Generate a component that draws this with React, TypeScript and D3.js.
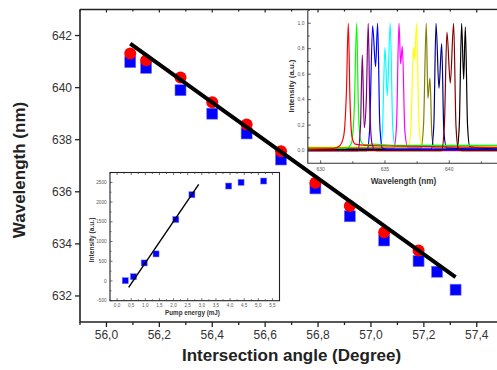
import { useEffect, useRef } from "react";
import * as d3 from "d3";

// main chart: wavelength vs intersection angle
const angles = [56.09, 56.15, 56.28, 56.40, 56.53, 56.66, 56.79, 56.92, 57.05, 57.18, 57.25, 57.32];
const redWavelengths = [641.31, 641.05, 640.39, 639.44, 638.58, 637.56, 636.35, 635.45, 634.45, 633.75];
const blueWavelengths = [640.98, 640.76, 639.90, 639.00, 638.24, 637.24, 636.13, 635.06, 634.13, 633.34, 632.93, 632.24];
const fitAngles = [56.09, 57.32];
const fitWavelengths = [641.69, 632.72];
const mainYTicks = [632, 634, 636, 638, 640, 642];

// lower inset: intensity vs pump energy
const pumpEnergy = [0.29, 0.58, 0.96, 1.38, 2.08, 2.65, 3.95, 4.39, 5.19];
const pumpIntensity = [8, 108, 457, 686, 1558, 2186, 2407, 2500, 2534];
const pumpFitEnergy = [0.41, 2.89];
const pumpFitIntensity = [-160, 2451];
const pumpXTicks = [0, 0.5, 1, 1.5, 2, 2.5, 3, 3.5, 4, 4.5, 5, 5.5];
const pumpYTicks = [-500, 0, 500, 1000, 1500, 2000, 2500];

// upper inset: spectra, [wavelength, intensity]
const redSpectrum = [[629, 0.012], [631.0, 0.015], [631.5, 0.04], [631.8, 0.12], [632.0, 0.45], [632.15, 1.0], [632.28, 0.4], [632.45, 0.1], [632.7, 0.05], [633.5, 0.04], [636, 0.035], [640, 0.03], [644, 0.025]];
const greenSpectrum = [[629, 0.015], [632.0, 0.02], [632.4, 0.06], [632.62, 0.35], [632.8, 1.0], [632.93, 0.35], [633.1, 0.08], [633.4, 0.045], [634.0, 0.05], [636, 0.04], [640, 0.04], [644, 0.04]];
const purpleSpectrum = [[629, 0.0], [632.9, 0.0], [633.1, 0.2], [633.24, 0.75], [633.39, 0.18], [633.55, 0.4], [633.7, 1.0], [633.82, 0.35], [634.0, 0.05], [634.3, 0.0], [644, 0.0]];
const blueSpectrum = [[629, 0.0], [633.6, 0.0], [633.8, 0.15], [634.04, 0.98], [634.27, 0.66], [634.43, 1.0], [634.6, 0.2], [634.8, 0.02], [635.2, 0.01], [644, 0.01]];
const cyanSpectrum = [[629, 0.02], [634.6, 0.02], [634.8, 0.15], [635.0, 0.81], [635.18, 0.43], [635.41, 1.0], [635.6, 0.2], [635.8, 0.03], [644, 0.02]];
const magentaSpectrum = [[629, 0.02], [635.7, 0.02], [635.9, 0.2], [636.09, 1.0], [636.22, 0.68], [636.35, 0.82], [636.55, 0.15], [636.8, 0.02], [644, 0.02]];
const yellowSpectrum = [[629, 0.03], [636.8, 0.03], [637.0, 0.15], [637.23, 0.81], [637.31, 0.71], [637.46, 1.0], [637.65, 0.2], [637.9, 0.03], [644, 0.03]];
const oliveSpectrum = [[629, 0.02], [637.8, 0.02], [638.0, 0.2], [638.21, 1.0], [638.34, 0.41], [638.5, 0.57], [638.65, 0.12], [638.85, 0.02], [644, 0.02]];
const navySpectrum = [[629, 0.01], [638.6, 0.01], [638.8, 0.2], [638.97, 1.0], [639.2, 0.49], [639.41, 0.84], [639.58, 0.15], [639.8, 0.02], [644, 0.01]];
const maroonSpectrum = [[629, 0.0], [639.4, 0.0], [639.62, 0.2], [639.82, 0.93], [640.08, 0.53], [640.34, 1.0], [640.52, 0.2], [640.7, 0.02], [641, 0.0], [644, 0.0]];
const blackSpectrum = [[629, 0.01], [640.6, 0.01], [640.78, 0.2], [640.96, 1.0], [641.12, 0.56], [641.25, 0.97], [641.42, 0.2], [641.6, 0.03], [644, 0.01]];
const specXTicks = [630, 635, 640];
const specYTicks = [0, 0.2, 0.4, 0.6, 0.8, 1.0];

const spectra = [
  { color: "#00ffff", points: cyanSpectrum },
  { color: "#ff00ff", points: magentaSpectrum },
  { color: "#ffff00", points: yellowSpectrum },
  { color: "#808000", points: oliveSpectrum },
  { color: "#000080", points: navySpectrum },
  { color: "#000000", points: blackSpectrum },
  { color: "#0000ff", points: blueSpectrum },
  { color: "#00ff00", points: greenSpectrum },
  { color: "#ff0000", points: redSpectrum },
  { color: "#800080", points: purpleSpectrum },
  { color: "#800000", points: maroonSpectrum },
];

const font = 'Arial, "Liberation Sans", sans-serif';
const comma = (f: string) => (v: number) => d3.format(f)(v).replace(".", ",");

export default function App() {
  const ref = useRef<SVGSVGElement>(null);

  useEffect(() => {
    const svg = d3.select(ref.current);
    svg.selectAll("*").remove();

    // ---------- main chart ----------
    const x = d3.scaleLinear().domain([55.9, 57.5]).range([80, 503.2]);
    const y = d3.scaleLinear().domain([631, 643]).range([322, 9.5]);
    const main = svg.append("g");

    main.append("path")
      .attr("d", `M${x(55.9)},${y(643)}V${y(631)}H${497}`)
      .attr("fill", "none").attr("stroke", "#222").attr("stroke-width", 1.6);

    const xTickVals = d3.range(0, 16).map(i => 55.9 + i * 0.1);
    main.selectAll(".xtick").data(xTickVals).join("line")
      .attr("x1", d => x(d)).attr("x2", d => x(d))
      .attr("y1", y(631)).attr("y2", (d, i) => y(631) + (i % 2 === 1 ? 5 : 3))
      .attr("stroke", "#222").attr("stroke-width", 1.3);
    main.selectAll(".xlab").data(xTickVals.filter((d, i) => i % 2 === 1)).join("text")
      .attr("x", d => x(d)).attr("y", 339)
      .attr("text-anchor", "middle").attr("font-family", font).attr("font-size", 12).attr("fill", "#333")
      .text(d => comma(".1f")(d));

    main.selectAll(".ytick").data(mainYTicks).join("line")
      .attr("x1", x(55.9) - 5).attr("x2", x(55.9))
      .attr("y1", d => y(d)).attr("y2", d => y(d))
      .attr("stroke", "#222").attr("stroke-width", 1.3);
    main.selectAll(".ylab").data(mainYTicks).join("text")
      .attr("x", 72).attr("y", d => y(d)).attr("dy", "0.36em")
      .attr("text-anchor", "end").attr("font-family", font).attr("font-size", 12).attr("fill", "#333")
      .text(d => d);

    main.append("text")
      .attr("x", 291.5).attr("y", 361)
      .attr("text-anchor", "middle").attr("font-family", font).attr("font-size", 17).attr("font-weight", "bold").attr("fill", "#222")
      .text("Intersection angle (Degree)");
    main.append("text")
      .attr("transform", `translate(25,${170}) rotate(-90)`)
      .attr("text-anchor", "middle").attr("font-family", font).attr("font-size", 17).attr("font-weight", "bold").attr("fill", "#222")
      .text("Wavelength (nm)");

    main.selectAll(".sq").data(blueWavelengths).join("rect")
      .attr("x", (d, i) => x(angles[i]) - 5.5).attr("y", d => y(d) - 5.5)
      .attr("width", 11).attr("height", 11)
      .attr("fill", "#0000ff").attr("stroke", "#7070ff").attr("stroke-width", 0.6);
    main.selectAll(".ci").data(redWavelengths).join("circle")
      .attr("cx", (d, i) => x(angles[i])).attr("cy", d => y(d)).attr("r", 6)
      .attr("fill", "#ff0000");

    main.append("path")
      .attr("d", d3.line<number>().x((d, i) => x(fitAngles[i])).y(d => y(d))(fitWavelengths))
      .attr("stroke", "#000").attr("stroke-width", 4).attr("fill", "none");

    // ---------- lower inset ----------
    const px = d3.scaleLinear().domain([-0.25, 5.75]).range([110, 279.5]);
    const py = d3.scaleLinear().domain([-500, 2750]).range([300.7, 172.5]);
    const low = svg.append("g");
    low.append("rect")
      .attr("x", px(-0.25)).attr("y", py(2750))
      .attr("width", px(5.75) - px(-0.25)).attr("height", py(-500) - py(2750))
      .attr("fill", "#fff").attr("stroke", "#222").attr("stroke-width", 1.1);

    const pxMinor = d3.range(0, 24).map(i => -0.25 + i * 0.25);
    low.selectAll(".pxt").data(pxMinor).join("line")
      .attr("x1", d => px(d)).attr("x2", d => px(d))
      .attr("y1", py(-500)).attr("y2", (d, i) => py(-500) - (i % 2 === 1 ? 2.5 : 1.5))
      .attr("stroke", "#333").attr("stroke-width", 0.7);
    low.selectAll(".pxt2").data(pxMinor).join("line")
      .attr("x1", d => px(d)).attr("x2", d => px(d))
      .attr("y1", py(2750)).attr("y2", (d, i) => py(2750) + (i % 2 === 1 ? 2.5 : 1.5))
      .attr("stroke", "#333").attr("stroke-width", 0.7);
    low.selectAll(".pxl").data(pumpXTicks).join("text")
      .attr("x", d => px(d)).attr("y", 307)
      .attr("text-anchor", "middle").attr("font-family", font).attr("font-size", 4.6).attr("fill", "#555")
      .text(d => comma(".1f")(d));

    const pyMinor = d3.range(0, 13).map(i => -500 + i * 250);
    low.selectAll(".pyt").data(pyMinor).join("line")
      .attr("x1", px(-0.25)).attr("x2", (d, i) => px(-0.25) + (i % 2 === 0 ? 2.5 : 1.5))
      .attr("y1", d => py(d)).attr("y2", d => py(d))
      .attr("stroke", "#333").attr("stroke-width", 0.7);
    low.selectAll(".pyl").data(pumpYTicks).join("text")
      .attr("x", 106.5).attr("y", d => py(d)).attr("dy", "0.35em")
      .attr("text-anchor", "end").attr("font-family", font).attr("font-size", 4.6).attr("fill", "#555")
      .text(d => d);

    low.append("text")
      .attr("x", 192.5).attr("y", 314.5)
      .attr("text-anchor", "middle").attr("font-family", font).attr("font-size", 6.3).attr("font-weight", "bold").attr("fill", "#333")
      .text("Pump energy (mJ)");
    low.append("text")
      .attr("transform", `translate(94,240) rotate(-90)`)
      .attr("text-anchor", "middle").attr("font-family", font).attr("font-size", 6.6).attr("font-weight", "bold").attr("fill", "#333")
      .text("Intensity (a.u.)");

    low.selectAll(".psq").data(pumpIntensity).join("rect")
      .attr("x", (d, i) => px(pumpEnergy[i]) - 3).attr("y", d => py(d) - 3)
      .attr("width", 6).attr("height", 6)
      .attr("fill", "#0000ff").attr("stroke", "#7070ff").attr("stroke-width", 0.5);
    low.append("path")
      .attr("d", d3.line<number>().x((d, i) => px(pumpFitEnergy[i])).y(d => py(d))(pumpFitIntensity))
      .attr("stroke", "#000").attr("stroke-width", 1.4).attr("fill", "none");

    // ---------- upper inset ----------
    const sx = d3.scaleLinear().domain([629, 644]).range([307.8, 500.7]);
    const sy = d3.scaleLinear().domain([-0.1, 1.1]).range([163.3, 10.5]);
    const up = svg.append("g");
    up.append("clipPath").attr("id", "spec-clip").append("rect")
      .attr("x", sx(629)).attr("y", sy(1.1)).attr("width", 200).attr("height", sy(-0.1) - sy(1.1));
    up.append("rect")
      .attr("x", sx(629)).attr("y", sy(1.1)).attr("width", 200).attr("height", sy(-0.1) - sy(1.1))
      .attr("fill", "#fff");

    const specLine = d3.line<number[]>().x(d => sx(d[0])).y(d => sy(d[1])).curve(d3.curveMonotoneX);
    up.append("g").attr("clip-path", "url(#spec-clip)")
      .selectAll("path").data(spectra).join("path")
      .attr("d", d => specLine(d.points))
      .attr("fill", "none").attr("stroke", d => d.color).attr("stroke-width", 1.2);

    up.append("path")
      .attr("d", `M${sx(629)},${sy(1.1)}V${sy(-0.1)}H${497}`)
      .attr("fill", "none").attr("stroke", "#333").attr("stroke-width", 1.1);

    const sxMinor = d3.range(0, 6).map(i => 630 + i * 2.5);
    up.selectAll(".sxt").data(sxMinor).join("line")
      .attr("x1", d => sx(d)).attr("x2", d => sx(d))
      .attr("y1", sy(-0.1)).attr("y2", (d, i) => sy(-0.1) - (i % 2 === 0 ? 3 : 2))
      .attr("stroke", "#333").attr("stroke-width", 0.8);
    up.selectAll(".sxl").data(specXTicks).join("text")
      .attr("x", d => sx(d)).attr("y", 170.5)
      .attr("text-anchor", "middle").attr("font-family", font).attr("font-size", 5).attr("fill", "#555")
      .text(d => d);

    const syMinor = d3.range(0, 12).map(i => i * 0.1);
    up.selectAll(".syt").data(syMinor).join("line")
      .attr("x1", sx(629)).attr("x2", (d, i) => sx(629) + (i % 2 === 0 ? 3 : 2))
      .attr("y1", d => sy(d)).attr("y2", d => sy(d))
      .attr("stroke", "#333").attr("stroke-width", 0.8);
    up.selectAll(".syl").data(specYTicks).join("text")
      .attr("x", 304.5).attr("y", d => sy(d)).attr("dy", "0.35em")
      .attr("text-anchor", "end").attr("font-family", font).attr("font-size", 5).attr("fill", "#555")
      .text(d => comma(".1f")(d));

    up.append("text")
      .attr("x", 403.5).attr("y", 184)
      .attr("text-anchor", "middle").attr("font-family", font).attr("font-size", 8.2).attr("font-weight", "bold").attr("fill", "#333")
      .text("Wavelength (nm)");
    up.append("text")
      .attr("transform", `translate(294,86) rotate(-90)`)
      .attr("text-anchor", "middle").attr("font-family", font).attr("font-size", 7.8).attr("font-weight", "bold").attr("fill", "#333")
      .text("Intensity (a.u.)");

    // main top frame on top of the insets
    main.append("line")
      .attr("x1", x(55.9)).attr("x2", 497).attr("y1", y(643)).attr("y2", y(643))
      .attr("stroke", "#222").attr("stroke-width", 1.6);
    svg.append("g").selectAll("line").data(xTickVals).join("line")
      .attr("x1", d => x(d)).attr("x2", d => x(d))
      .attr("y1", y(643)).attr("y2", (d, i) => y(643) + (i % 2 === 1 ? 3 : 2))
      .attr("stroke", "#222").attr("stroke-width", 1.2);
  }, []);

  return (
    <svg ref={ref} width={497} height={370}
      style={{ position: "absolute", left: 0, top: 0, background: "#fff" }} />
  );
}
